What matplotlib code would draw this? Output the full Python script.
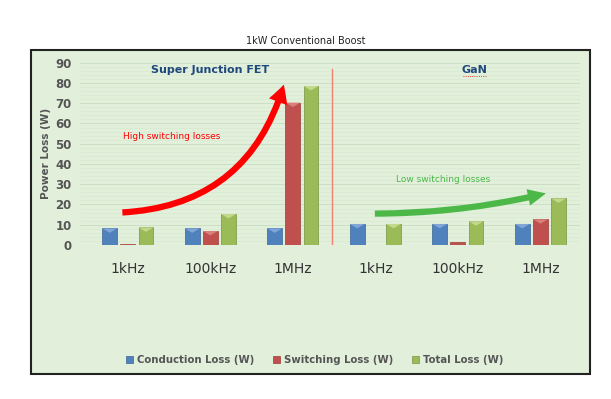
import matplotlib.pyplot as plt
import numpy as np
from matplotlib.patches import Rectangle, FancyArrowPatch, Polygon

categories = ['1kHz', '100kHz', '1MHz', '1kHz', '100kHz', '1MHz']
conduction = [8.2, 8.2, 8.2, 10.4, 10.4, 10.4]
switching = [0.5, 6.9, 70.3, 0.0, 1.3, 12.7]
total = [8.7, 15.3, 78.5, 10.4, 11.7, 23.0]
series_names = ['Conduction Loss (W)', 'Switching Loss (W)', 'Total Loss (W)']
colors = ['#4F81BD', '#C0504D', '#9BBB59']
light = ['#7FA6D6', '#D97F7C', '#C2D98A']
dark = ['#3A6496', '#9B3B38', '#77923F']

fig = plt.figure(figsize=(6.11, 3.99), dpi=100)
bg = Rectangle((31/611, 1-374/399), (590-31)/611, (374-50)/399,
               transform=fig.transFigure, facecolor='#E1EFDB',
               edgecolor='#222222', lw=1.5, zorder=-10)
fig.patches.append(bg)
fig.text(0.5, 1-41/399, '1kW Conventional Boost', ha='center', va='center',
         fontsize=7, color='#222222')

ax = fig.add_axes([80/611, 1-245/399, 500/611, (245-62.7)/399])
ax.set_zorder(2)
ax.set_facecolor('none')
for s in ax.spines.values():
    s.set_visible(False)

x = np.arange(len(categories))
w = 0.18
off = 0.22
for i, vals in enumerate([conduction, switching, total]):
    bars = ax.bar(x + (i-1)*off, vals, w, color=colors[i], edgecolor=dark[i],
                  lw=0.5, zorder=3, label=series_names[i])
    for b in bars:
        h = b.get_height()
        if h < 2:
            continue
        x0, bw = b.get_x(), b.get_width()
        d = min(2.2, h/2)
        ax.add_patch(Polygon([[x0, h], [x0+bw, h], [x0+bw/2, h-d]],
                             closed=True, facecolor=light[i], lw=0, zorder=4))

ax.set_ylim(0, 90)
ax.set_xlim(-0.58, 5.48)
ax.set_yticks(range(0, 91, 10))
ax.set_yticks(range(0, 91, 2), minor=True)
ax.tick_params(axis='y', length=0, labelsize=8.5, colors='#555555', pad=6)
ax.tick_params(axis='y', which='minor', length=0)
for lab in ax.get_yticklabels():
    lab.set_fontweight('bold')
ax.grid(axis='y', which='major', color='#CADFC3', lw=0.7, zorder=1)
ax.grid(axis='y', which='minor', color='#D8EAD2', lw=0.5, zorder=1)
ax.set_xticks(x)
ax.set_xticklabels(categories, fontsize=10, color='#333333')
ax.tick_params(axis='x', length=0, pad=12)
ax.set_ylabel('Power Loss (W)', fontsize=7.5, color='#555555', labelpad=3,
              fontweight='bold')

ax.plot([2.47, 2.47], [0, 87], color='#F08070', lw=1, zorder=2)

ax.text(1.0, 86.5, 'Super Junction FET', ha='center', va='center',
        fontsize=8, fontweight='bold', color='#1F497D')
ax.text(4.2, 86.5, 'GaN', ha='center', va='center',
        fontsize=8, fontweight='bold', color='#1F497D')
ax.plot([4.06, 4.34], [83.3, 83.3], color='red', lw=0.6, ls=':', zorder=2)

ax.text(0.53, 53.5, 'High switching losses', ha='center', va='center',
        fontsize=6.5, color='red')
ax.text(3.82, 32.5, 'Low switching losses', ha='center', va='center',
        fontsize=6.5, color='#4CB848')

ax.add_patch(FancyArrowPatch((-0.1, 16.0), (1.9, 80.5),
                             connectionstyle='arc3,rad=0.36',
                             arrowstyle='simple,head_width=14,head_length=13,tail_width=4.5',
                             color='red', lw=0, zorder=5))
ax.add_patch(FancyArrowPatch((2.96, 15.5), (5.1, 25.8),
                             connectionstyle='arc3,rad=0.06',
                             arrowstyle='simple,head_width=12,head_length=13,tail_width=4.5',
                             color='#4CB848', lw=0, zorder=5))

leg = fig.legend(loc='center', bbox_to_anchor=(0.515, 1-360/399), ncol=3,
                 frameon=False, handlelength=0.7, handleheight=0.7,
                 columnspacing=1.8, handletextpad=0.4,
                 prop={'size': 7.3, 'weight': 'bold'})
for t in leg.get_texts():
    t.set_color('#555555')

fig.savefig('out.png', dpi=100)
